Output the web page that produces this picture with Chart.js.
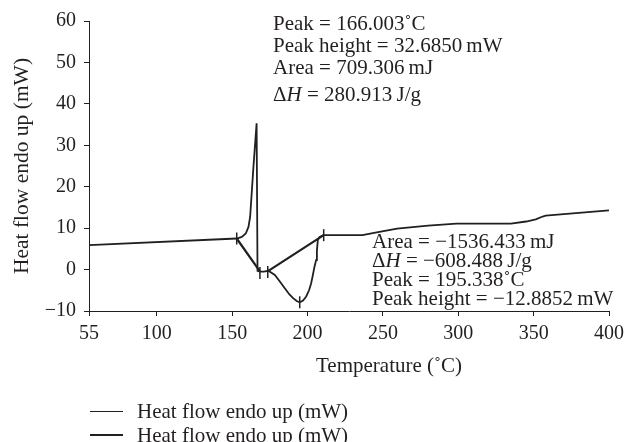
<!DOCTYPE html>
<html>
<head>
<meta charset="utf-8">
<script src="https://cdn.jsdelivr.net/npm/chart.js@4.4.0/dist/chart.umd.min.js"></script>
<style>
    body { margin: 0; background: #fff; }
    #wrap { position: relative; width: 630px; height: 442px; font-family: "Liberation Serif", serif; color: #231f20; }
    .note { position: absolute; font-size: 21px; white-space: nowrap; }
    .note i { font-style: italic; }
    #xtitle { position: absolute; left: 316px; top: 353px; font-size: 21px; line-height: 24px; white-space: nowrap; }
    #legend { position: absolute; left: 90px; top: 399px; font-size: 21px; }
    .lg-item { display: flex; align-items: center; height: 24px; white-space: nowrap; }
    .lg-line { width: 33px; background: #231f20; margin-right: 14px; }
</style>
</head>
<body>
<div id="wrap">
    <canvas id="myChart" width="630" height="442"></canvas>
    <div class="note" style="left:273px; top:12px; line-height:22px;">
        Peak = 166.003˚C<br>
        Peak height = 32.6850&#8201;mW<br>
        Area = 709.306&#8201;mJ<br>
        <span style="display:inline-block; margin-top:5px;">Δ<i>H</i> = 280.913&#8201;J/g</span>
    </div>
    <div class="note" style="left:372px; top:232px; line-height:19px;">
        Area = −1536.433&#8201;mJ<br>
        Δ<i>H</i> = −608.488&#8201;J/g<br>
        Peak = 195.338˚C<br>
        Peak height = −12.8852&#8201;mW
    </div>
    <div id="xtitle">Temperature (˚C)</div>
    <div id="legend"></div>
</div>
<script>
// DSC curve (temperature in °C, heat flow in mW)
const curveT = [55, 153, 156.4, 159, 160.8, 161.9, 164.1, 166.2, 166.8, 168.5, 171, 174,
    178.3, 181.5, 184.9, 188, 190.4, 192.8, 194.8, 197, 199.1, 201, 202.4, 203.6, 204.6,
    205.7, 206.2, 206.8, 208, 210.7, 236.4, 245, 259.4, 280, 298.8, 334.9, 345, 351.4,
    356, 358, 400];
const curveY = [5.9, 7.5, 7.9, 8.7, 10.3, 12.7, 24.8, 35.3, -0.3, -0.5, -0.5, -0.3,
    -1.3, -2.8, -4.5, -6.0, -6.9, -7.6, -7.9, -7.5, -6.5, -5.0, -3.3, -1.2, 0.7,
    2.3, 4.5, 7.1, 7.9, 8.3, 8.3, 8.9, 9.9, 10.6, 11.1, 11.1, 11.6, 12.1,
    12.8, 13.0, 14.3];

// integration baselines (null = gap between the two peaks)
const baseT = [153, 168.5, 171, 174, 210.7];
const baseY = [7.5, -0.5, null, -0.3, 8.3];

// small vertical marks at limits / peak
const markT = [153, 168.4, 173.6, 194.8, 210.7];
const markY = [7.5, -0.8, -0.6, -7.9, 8.3];

const xTicks = [55, 100, 150, 200, 250, 300, 350, 400];
const yMin = -10, yMax = 60, yStep = 10;

const seriesLabel = 'Heat flow endo up (mW)';
const ink = '#231f20';
const serif = 'Liberation Serif';

const pts = (xs, ys) => xs.map((x, i) => ({ x: x, y: ys[i] }));

const chart = new Chart(document.getElementById('myChart'), {
    type: 'scatter',
    data: {
        datasets: [{
            label: seriesLabel,
            data: pts(curveT, curveY),
            showLine: true,
            borderColor: ink,
            borderWidth: 1.8,
            pointRadius: 0,
            tension: 0
        }, {
            label: seriesLabel,
            data: pts(baseT, baseY),
            showLine: true,
            spanGaps: false,
            borderColor: ink,
            borderWidth: 2.2,
            pointRadius: 0,
            tension: 0
        }, {
            label: 'marks',
            data: pts(markT, markY),
            showLine: false,
            pointStyle: 'line',
            rotation: 90,
            pointRadius: 6,
            borderColor: ink,
            borderWidth: 1.5
        }]
    },
    options: {
        responsive: false,
        animation: false,
        devicePixelRatio: 1,
        layout: { padding: { top: 21, right: 16, bottom: 72, left: 0 } },
        plugins: {
            legend: { display: false },
            tooltip: { enabled: false }
        },
        scales: {
            x: {
                type: 'linear',
                min: 55,
                max: 400,
                afterBuildTicks: (s) => { s.ticks = xTicks.map(v => ({ value: v })); },
                afterFit: (s) => { s.height = 59; },
                ticks: { autoSkip: false, maxRotation: 0, padding: 6, color: ink, font: { family: serif, size: 20 } },
                grid: { drawOnChartArea: false, drawTicks: true, tickLength: 5, color: ink },
                border: { display: true, color: ink, width: 1 }
            },
            y: {
                min: yMin,
                max: yMax,
                ticks: {
                    stepSize: yStep, padding: 8, color: ink, font: { family: serif, size: 20 },
                    callback: (v) => v < 0 ? '\u2212' + Math.abs(v) : String(v)
                },
                afterFit: (s) => { s.width = 89; },
                grid: { drawOnChartArea: false, drawTicks: true, tickLength: 5, color: ink },
                border: { display: true, color: ink, width: 1 },
                title: { display: true, text: 'Heat flow endo up (mW)', color: ink, padding: { top: 9, bottom: 0 }, font: { family: serif, size: 21.5 } }
            }
        }
    }
});

// legend: two rows, built from the first two datasets
const legend = document.getElementById('legend');
chart.data.datasets.slice(0, 2).forEach(function (ds, i) {
    const row = document.createElement('div');
    row.className = 'lg-item';
    const line = document.createElement('span');
    line.className = 'lg-line';
    line.style.height = (i === 0 ? 1 : 2) + 'px';
    const txt = document.createElement('span');
    txt.textContent = ds.label;
    row.appendChild(line);
    row.appendChild(txt);
    legend.appendChild(row);
});
</script>
</body>
</html>
